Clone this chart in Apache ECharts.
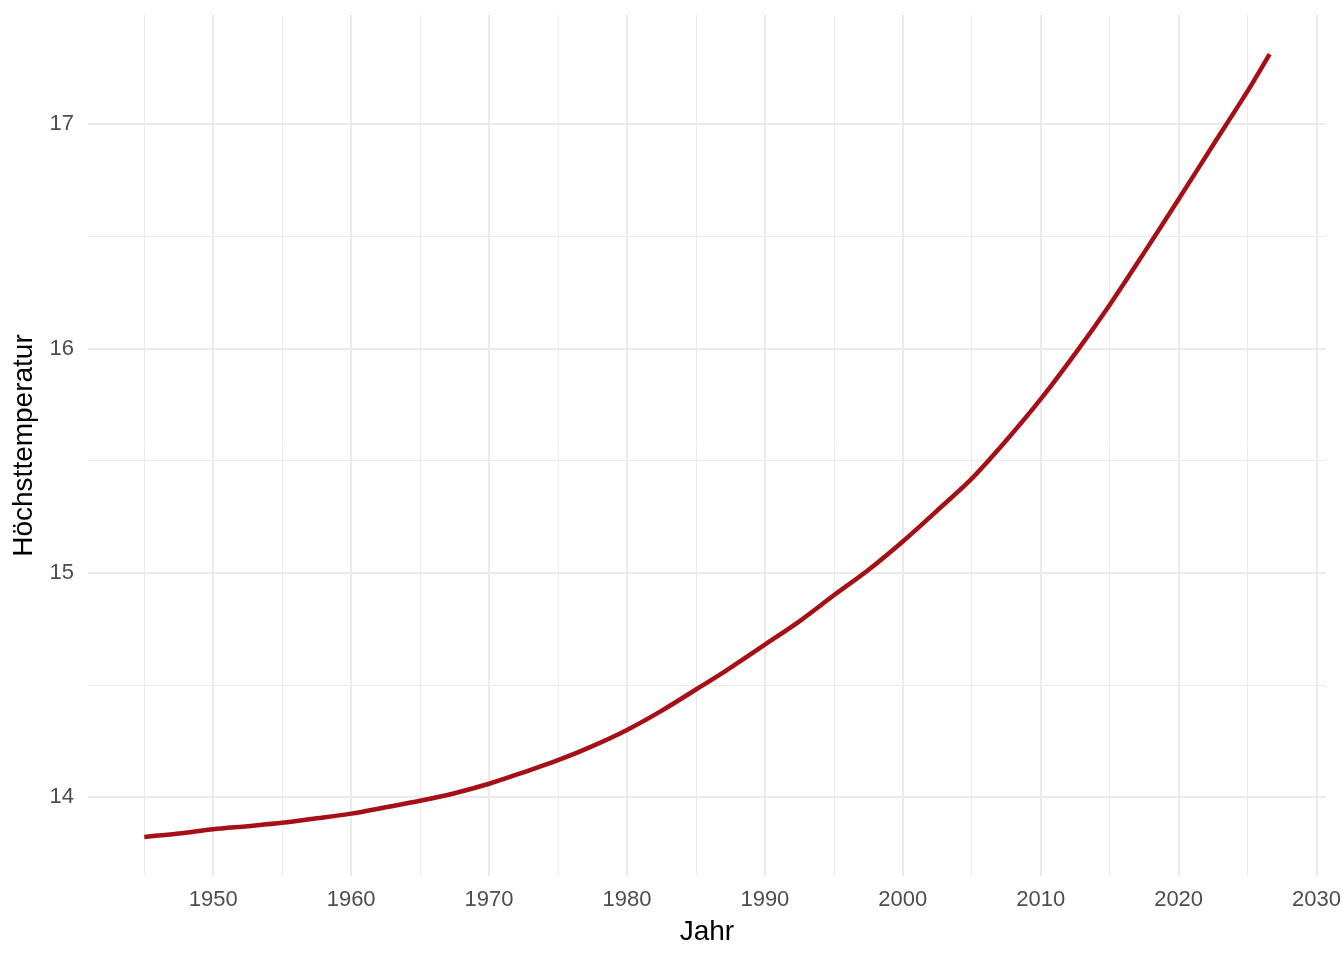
<!DOCTYPE html>
<html>
<head>
<meta charset="utf-8">
<script src="https://cdn.jsdelivr.net/npm/echarts@6/dist/echarts.min.js"></script>
<style>
html,body{margin:0;padding:0;background:#fff;}
#chart{width:1344px;height:960px;}
</style>
</head>
<body>
<div id="chart"></div>
<script>
const years = [1945, 1947.5, 1950, 1952.5, 1955, 1957.5, 1960, 1962.5, 1965, 1967.5, 1970, 1972.5, 1975, 1977.5, 1980, 1982.5, 1985, 1987.5, 1990, 1992.5, 1995, 1997.5, 2000, 2002.5, 2005, 2007.5, 2010, 2012.5, 2015, 2017.5, 2020, 2022.5, 2025, 2026.6];
const temps = [13.823, 13.838, 13.857, 13.871, 13.886, 13.906, 13.927, 13.955, 13.984, 14.018, 14.060, 14.111, 14.165, 14.228, 14.300, 14.385, 14.480, 14.577, 14.680, 14.784, 14.900, 15.013, 15.140, 15.278, 15.420, 15.590, 15.774, 15.977, 16.194, 16.427, 16.665, 16.907, 17.147, 17.312];
const xMajorTicks = [1950, 1960, 1970, 1980, 1990, 2000, 2010, 2020, 2030];
const xMinorTicks = [1945, 1955, 1965, 1975, 1985, 1995, 2005, 2015, 2025];
const yMajorTicks = [14, 15, 16, 17];
const yMinorTicks = [14.5, 15.5, 16.5];

const X_MIN = 1940.92, X_MAX = 2030.68;
const Y_MIN = 13.649, Y_MAX = 17.486;
const FONT = '"Liberation Sans", Arial, Helvetica, sans-serif';

const chart = echarts.init(document.getElementById('chart'), null, {renderer: 'canvas'});
const grid = {left: 88, right: 15, top: 15, bottom: 84, containLabel: false};

chart.setOption({
  backgroundColor: '#ffffff',
  animation: false,
  grid: grid,
  xAxis: [
    {
      type: 'value', min: X_MIN, max: X_MAX,
      axisLine: {show: false},
      axisTick: {show: false, customValues: xMajorTicks},
      axisLabel: {
        customValues: xMajorTicks, fontSize: 22, color: '#4D4D4D', margin: 13,
        fontFamily: FONT, formatter: v => String(Math.round(v))
      },
      splitLine: {show: true, lineStyle: {color: '#EBEBEB', width: 2}},
      name: 'Jahr', nameLocation: 'middle', nameGap: 42,
      nameTextStyle: {fontSize: 28, color: '#000000', fontFamily: FONT}
    },
    {
      type: 'value', min: X_MIN, max: X_MAX, position: 'bottom',
      axisLine: {show: false},
      axisTick: {show: false, customValues: xMinorTicks},
      axisLabel: {show: false, customValues: xMinorTicks},
      splitLine: {show: true, lineStyle: {color: '#EBEBEB', width: 1}}
    }
  ],
  yAxis: [
    {
      type: 'value', min: Y_MIN, max: Y_MAX,
      axisLine: {show: false},
      axisTick: {show: false, customValues: yMajorTicks},
      axisLabel: {
        customValues: yMajorTicks, fontSize: 22, color: '#4D4D4D', margin: 14,
        fontFamily: FONT, formatter: v => String(Math.round(v))
      },
      splitLine: {show: true, lineStyle: {color: '#EBEBEB', width: 2}},
      name: 'Höchsttemperatur', nameLocation: 'middle', nameGap: 43,
      nameTextStyle: {fontSize: 28, color: '#000000', fontFamily: FONT}
    },
    {
      type: 'value', min: Y_MIN, max: Y_MAX, position: 'left',
      axisLine: {show: false},
      axisTick: {show: false, customValues: yMinorTicks},
      axisLabel: {show: false, customValues: yMinorTicks},
      splitLine: {show: true, lineStyle: {color: '#EBEBEB', width: 1}}
    }
  ],
  series: [
    {
      type: 'line',
      xAxisIndex: 0, yAxisIndex: 0,
      data: years.map((y, i) => [y, temps[i]]),
      smooth: 0.3,
      showSymbol: false,
      lineStyle: {color: '#A50F15', width: 4.5, cap: 'butt'},
      z: 10
    }
  ]
});
</script>
</body>
</html>
